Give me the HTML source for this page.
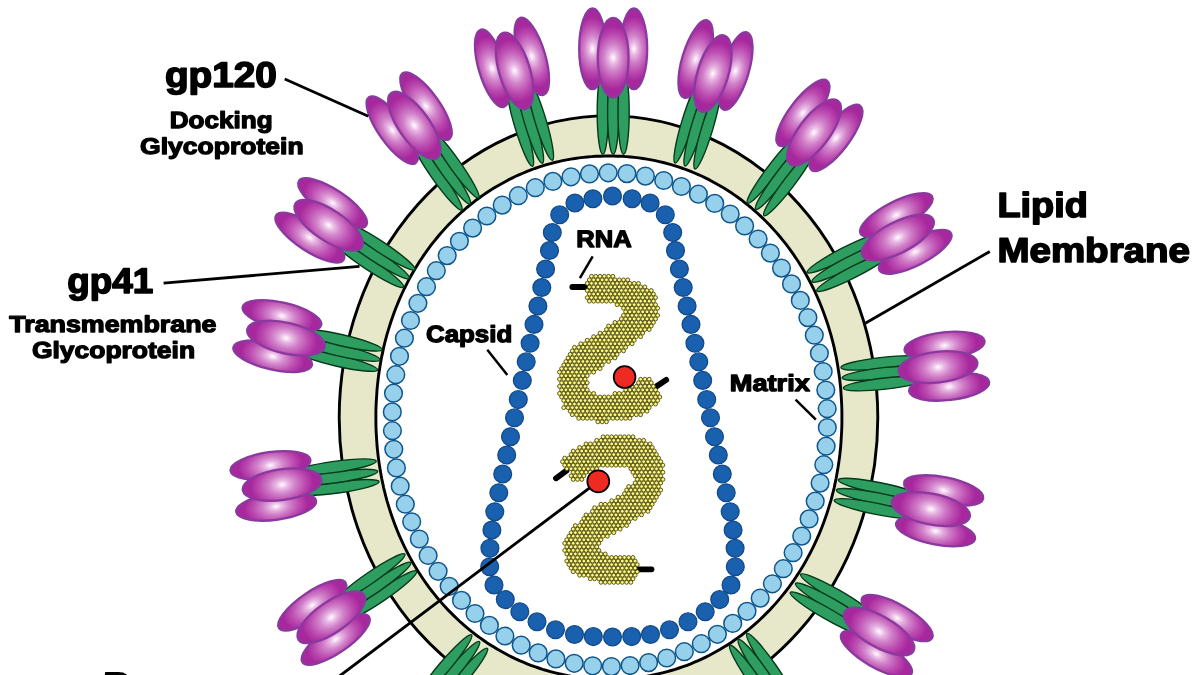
<!DOCTYPE html>
<html><head><meta charset="utf-8"><title>HIV</title>
<style>html,body{margin:0;padding:0;background:#fff}svg{display:block}text{text-rendering:geometricPrecision;font-family:"Liberation Sans",sans-serif;font-weight:bold;fill:#000}</style>
</head><body>
<svg width="1200" height="675" viewBox="0 0 1200 675">
<defs>
<radialGradient id="pg" cx="0.5" cy="0.5" r="0.5" fx="0.5" fy="0.5" gradientTransform="translate(0.5,0.5) scale(1.45,0.80) translate(-0.5,-0.5)"><stop offset="0" stop-color="#FFFFFF"/><stop offset="0.07" stop-color="#F8E3F5"/><stop offset="0.2" stop-color="#E8B6E3"/><stop offset="0.42" stop-color="#D182C9"/><stop offset="0.72" stop-color="#BC4CB1"/><stop offset="1" stop-color="#A7279C"/></radialGradient>
<radialGradient id="yg" cx="0.5" cy="0.5" r="0.5"><stop offset="0" stop-color="#FFFEC0"/><stop offset="0.55" stop-color="#F6F16C"/><stop offset="1" stop-color="#E9E24E"/></radialGradient>
<g id="spike"><ellipse cx="-10.4" cy="-42.8" rx="5.6" ry="42.0" fill="#2D9D60" stroke="#06381B" stroke-width="1.4"/><ellipse cx="0" cy="-42.8" rx="5.6" ry="42.0" fill="#2D9D60" stroke="#06381B" stroke-width="1.4"/><ellipse cx="10.4" cy="-42.8" rx="5.6" ry="42.0" fill="#2D9D60" stroke="#06381B" stroke-width="1.4"/><ellipse cx="-20.7" cy="-106.2" rx="13.3" ry="40.3" fill="url(#pg)" stroke="#8A3A9E" stroke-width="2.3"/><ellipse cx="20.7" cy="-106.2" rx="13.3" ry="40.3" fill="url(#pg)" stroke="#8A3A9E" stroke-width="2.3"/><ellipse cx="0" cy="-97.3" rx="15.4" ry="39.7" fill="url(#pg)" stroke="#8A3A9E" stroke-width="2.3"/></g>
<filter id="nf" x="0" y="0" width="1200" height="675" filterUnits="userSpaceOnUse"><feOffset dx="0" dy="0"/></filter>
</defs>
<rect width="1200" height="675" fill="#fff"/>
<ellipse cx="608.5" cy="417.8" rx="269.3" ry="301.9" fill="#E7E8C9" stroke="#000" stroke-width="2.9"/>
<path d="M841.9,417.6 L841.9,422.6 L841.8,427.5 L841.6,432.3 L841.3,437.1 L841.0,441.8 L840.7,446.5 L840.2,451.2 L839.7,455.8 L839.1,460.4 L838.4,465.0 L837.7,469.6 L836.9,474.1 L836.1,478.6 L835.1,483.1 L834.2,487.6 L833.1,492.0 L832.0,496.4 L830.8,500.8 L829.5,505.1 L828.2,509.4 L826.8,513.7 L825.3,518.0 L823.8,522.2 L822.2,526.4 L820.6,530.5 L818.9,534.6 L817.1,538.7 L815.3,542.7 L813.4,546.7 L811.4,550.6 L809.4,554.5 L807.3,558.4 L805.2,562.2 L803.0,566.0 L800.7,569.7 L798.4,573.4 L796.0,577.0 L793.6,580.6 L791.1,584.1 L788.6,587.6 L786.0,591.0 L783.3,594.4 L780.6,597.7 L777.9,600.9 L775.1,604.1 L772.2,607.3 L769.3,610.4 L766.3,613.4 L763.3,616.4 L760.3,619.3 L757.2,622.2 L754.1,624.9 L750.9,627.7 L747.6,630.3 L744.4,632.9 L741.1,635.5 L737.7,637.9 L734.3,640.3 L730.9,642.7 L727.4,644.9 L723.9,647.1 L720.3,649.3 L716.7,651.3 L713.1,653.3 L709.5,655.3 L705.8,657.1 L702.1,658.9 L698.3,660.6 L694.5,662.2 L690.7,663.8 L686.9,665.3 L683.0,666.7 L679.1,668.0 L675.2,669.3 L671.2,670.5 L667.3,671.6 L663.3,672.7 L659.2,673.6 L655.2,674.5 L651.1,675.3 L647.0,676.1 L642.9,676.7 L638.8,677.3 L634.6,677.8 L630.5,678.2 L626.2,678.6 L622.0,678.9 L617.7,679.0 L613.4,679.2 L608.9,679.2 L604.4,679.2 L600.1,679.0 L595.8,678.9 L591.6,678.6 L587.3,678.2 L583.2,677.8 L579.0,677.3 L574.9,676.7 L570.8,676.1 L566.7,675.3 L562.6,674.5 L558.6,673.6 L554.5,672.7 L550.5,671.6 L546.6,670.5 L542.6,669.3 L538.7,668.0 L534.8,666.7 L530.9,665.3 L527.1,663.8 L523.3,662.2 L519.5,660.6 L515.7,658.9 L512.0,657.1 L508.3,655.3 L504.7,653.3 L501.1,651.3 L497.5,649.3 L493.9,647.1 L490.4,644.9 L486.9,642.7 L483.5,640.3 L480.1,637.9 L476.7,635.5 L473.4,632.9 L470.2,630.3 L466.9,627.7 L463.7,624.9 L460.6,622.2 L457.5,619.3 L454.5,616.4 L451.5,613.4 L448.5,610.4 L445.6,607.3 L442.7,604.1 L439.9,600.9 L437.2,597.7 L434.5,594.4 L431.8,591.0 L429.2,587.6 L426.7,584.1 L424.2,580.6 L421.8,577.0 L419.4,573.4 L417.1,569.7 L414.8,566.0 L412.6,562.2 L410.5,558.4 L408.4,554.5 L406.4,550.6 L404.4,546.7 L402.5,542.7 L400.7,538.7 L398.9,534.6 L397.2,530.5 L395.6,526.4 L394.0,522.2 L392.5,518.0 L391.0,513.7 L389.6,509.4 L388.3,505.1 L387.0,500.8 L385.8,496.4 L384.7,492.0 L383.6,487.6 L382.7,483.1 L381.7,478.6 L380.9,474.1 L380.1,469.6 L379.4,465.0 L378.7,460.4 L378.1,455.8 L377.6,451.2 L377.1,446.5 L376.8,441.8 L376.5,437.1 L376.2,432.3 L376.0,427.5 L375.9,422.6 L375.9,417.6 L375.9,412.6 L376.0,407.7 L376.2,402.9 L376.5,398.1 L376.8,393.4 L377.1,388.7 L377.6,384.0 L378.1,379.4 L378.7,374.8 L379.4,370.2 L380.1,365.6 L380.9,361.1 L381.7,356.6 L382.7,352.1 L383.6,347.6 L384.7,343.2 L385.8,338.8 L387.0,334.4 L388.3,330.1 L389.6,325.8 L391.0,321.5 L392.5,317.2 L394.0,313.0 L395.6,308.8 L397.2,304.7 L398.9,300.6 L400.7,296.5 L402.5,292.5 L404.4,288.5 L406.4,284.6 L408.4,280.7 L410.5,276.8 L412.6,273.0 L414.8,269.2 L417.1,265.5 L419.4,261.8 L421.8,258.2 L424.2,254.6 L426.7,251.1 L429.2,247.6 L431.8,244.2 L434.5,240.8 L437.2,237.5 L439.9,234.3 L442.7,231.1 L445.6,227.9 L448.5,224.8 L451.5,221.8 L454.5,218.8 L457.5,215.9 L460.6,213.0 L463.7,210.3 L466.9,207.5 L470.2,204.9 L473.4,202.3 L476.7,199.7 L480.1,197.3 L483.5,194.9 L486.9,192.5 L490.4,190.3 L493.9,188.1 L497.5,185.9 L501.1,183.9 L504.7,181.9 L508.3,179.9 L512.0,178.1 L515.7,176.3 L519.5,174.6 L523.3,173.0 L527.1,171.4 L530.9,169.9 L534.8,168.5 L538.7,167.2 L542.6,165.9 L546.6,164.7 L550.5,163.6 L554.5,162.5 L558.6,161.6 L562.6,160.7 L566.7,159.9 L570.8,159.1 L574.9,158.5 L579.0,157.9 L583.2,157.4 L587.3,157.0 L591.6,156.6 L595.8,156.3 L600.1,156.2 L604.4,156.0 L608.9,156.0 L613.4,156.0 L617.7,156.2 L622.0,156.3 L626.2,156.6 L630.5,157.0 L634.6,157.4 L638.8,157.9 L642.9,158.5 L647.0,159.1 L651.1,159.9 L655.2,160.7 L659.2,161.6 L663.3,162.5 L667.3,163.6 L671.2,164.7 L675.2,165.9 L679.1,167.2 L683.0,168.5 L686.9,169.9 L690.7,171.4 L694.5,173.0 L698.3,174.6 L702.1,176.3 L705.8,178.1 L709.5,179.9 L713.1,181.9 L716.7,183.9 L720.3,185.9 L723.9,188.1 L727.4,190.3 L730.9,192.5 L734.3,194.9 L737.7,197.3 L741.1,199.7 L744.4,202.3 L747.6,204.9 L750.9,207.5 L754.1,210.3 L757.2,213.0 L760.3,215.9 L763.3,218.8 L766.3,221.8 L769.3,224.8 L772.2,227.9 L775.1,231.1 L777.9,234.3 L780.6,237.5 L783.3,240.8 L786.0,244.2 L788.6,247.6 L791.1,251.1 L793.6,254.6 L796.0,258.2 L798.4,261.8 L800.7,265.5 L803.0,269.2 L805.2,273.0 L807.3,276.8 L809.4,280.7 L811.4,284.6 L813.4,288.5 L815.3,292.5 L817.1,296.5 L818.9,300.6 L820.6,304.7 L822.2,308.8 L823.8,313.0 L825.3,317.2 L826.8,321.5 L828.2,325.8 L829.5,330.1 L830.8,334.4 L832.0,338.8 L833.1,343.2 L834.2,347.6 L835.1,352.1 L836.1,356.6 L836.9,361.1 L837.7,365.6 L838.4,370.2 L839.1,374.8 L839.7,379.4 L840.2,384.0 L840.7,388.7 L841.0,393.4 L841.3,398.1 L841.6,402.9 L841.8,407.7 L841.9,412.6Z" fill="#fff" stroke="#000" stroke-width="2.9" stroke-linejoin="round"/>
<use href="#spike" transform="translate(613.2,155.0) rotate(0.0)"/>
<use href="#spike" transform="translate(542.7,164.0) rotate(-16.8)"/>
<use href="#spike" transform="translate(470.7,204.7) rotate(-35.4)"/>
<use href="#spike" transform="translate(409.9,278.8) rotate(-56.6)"/>
<use href="#spike" transform="translate(380.8,360.0) rotate(-77.0)"/>
<use href="#spike" transform="translate(378.5,471.3) rotate(-97.9)"/>
<use href="#spike" transform="translate(411.5,562.2) rotate(-124.5)"/>
<use href="#spike" transform="translate(480.0,641.1) rotate(-139.6)"/>
<use href="#spike" transform="translate(684.8,166.7) rotate(16.8)"/>
<use href="#spike" transform="translate(755.2,210.0) rotate(37.2)"/>
<use href="#spike" transform="translate(811.3,282.0) rotate(62.8)"/>
<use href="#spike" transform="translate(841.3,378.0) rotate(83.6)"/>
<use href="#spike" transform="translate(835.5,490.0) rotate(101.3)"/>
<use href="#spike" transform="translate(794.7,583.0) rotate(119.9)"/>
<use href="#spike" transform="translate(738.0,638.8) rotate(145.1)"/>
<g fill="#97D0EB" stroke="#0F568C" stroke-width="1.5">
<circle cx="608.2" cy="172.8" r="8.85"/>
<circle cx="626.9" cy="173.6" r="8.85"/>
<circle cx="645.4" cy="176.1" r="8.85"/>
<circle cx="663.7" cy="180.5" r="8.85"/>
<circle cx="681.4" cy="186.5" r="8.85"/>
<circle cx="698.4" cy="194.2" r="8.85"/>
<circle cx="714.7" cy="203.4" r="8.85"/>
<circle cx="730.2" cy="214.0" r="8.85"/>
<circle cx="744.6" cy="225.9" r="8.85"/>
<circle cx="758.1" cy="239.0" r="8.85"/>
<circle cx="770.4" cy="253.1" r="8.85"/>
<circle cx="781.5" cy="268.1" r="8.85"/>
<circle cx="791.5" cy="283.9" r="8.85"/>
<circle cx="800.3" cy="300.4" r="8.85"/>
<circle cx="807.9" cy="317.6" r="8.85"/>
<circle cx="814.3" cy="335.2" r="8.85"/>
<circle cx="819.4" cy="353.2" r="8.85"/>
<circle cx="823.2" cy="371.5" r="8.85"/>
<circle cx="825.8" cy="390.1" r="8.85"/>
<circle cx="827.2" cy="408.7" r="8.85"/>
<circle cx="827.3" cy="427.5" r="8.85"/>
<circle cx="826.1" cy="446.2" r="8.85"/>
<circle cx="823.8" cy="464.7" r="8.85"/>
<circle cx="820.1" cy="483.1" r="8.85"/>
<circle cx="815.2" cy="501.2" r="8.85"/>
<circle cx="809.1" cy="518.9" r="8.85"/>
<circle cx="801.7" cy="536.1" r="8.85"/>
<circle cx="793.1" cy="552.7" r="8.85"/>
<circle cx="783.3" cy="568.7" r="8.85"/>
<circle cx="772.4" cy="583.8" r="8.85"/>
<circle cx="760.2" cy="598.1" r="8.85"/>
<circle cx="747.0" cy="611.3" r="8.85"/>
<circle cx="732.7" cy="623.4" r="8.85"/>
<circle cx="717.4" cy="634.3" r="8.85"/>
<circle cx="701.3" cy="643.7" r="8.85"/>
<circle cx="684.3" cy="651.7" r="8.85"/>
<circle cx="666.7" cy="658.0" r="8.85"/>
<circle cx="648.6" cy="662.6" r="8.85"/>
<circle cx="630.1" cy="665.5" r="8.85"/>
<circle cx="611.4" cy="666.6" r="8.85"/>
<circle cx="592.7" cy="665.8" r="8.85"/>
<circle cx="574.2" cy="663.3" r="8.85"/>
<circle cx="555.9" cy="658.9" r="8.85"/>
<circle cx="538.2" cy="652.9" r="8.85"/>
<circle cx="521.2" cy="645.2" r="8.85"/>
<circle cx="504.9" cy="636.0" r="8.85"/>
<circle cx="489.4" cy="625.4" r="8.85"/>
<circle cx="475.0" cy="613.5" r="8.85"/>
<circle cx="461.5" cy="600.4" r="8.85"/>
<circle cx="449.2" cy="586.3" r="8.85"/>
<circle cx="438.1" cy="571.3" r="8.85"/>
<circle cx="428.1" cy="555.5" r="8.85"/>
<circle cx="419.3" cy="539.0" r="8.85"/>
<circle cx="411.7" cy="521.8" r="8.85"/>
<circle cx="405.3" cy="504.2" r="8.85"/>
<circle cx="400.2" cy="486.2" r="8.85"/>
<circle cx="396.4" cy="467.9" r="8.85"/>
<circle cx="393.8" cy="449.3" r="8.85"/>
<circle cx="392.4" cy="430.7" r="8.85"/>
<circle cx="392.3" cy="411.9" r="8.85"/>
<circle cx="393.5" cy="393.2" r="8.85"/>
<circle cx="395.8" cy="374.7" r="8.85"/>
<circle cx="399.5" cy="356.3" r="8.85"/>
<circle cx="404.4" cy="338.2" r="8.85"/>
<circle cx="410.5" cy="320.5" r="8.85"/>
<circle cx="417.9" cy="303.3" r="8.85"/>
<circle cx="426.5" cy="286.7" r="8.85"/>
<circle cx="436.3" cy="270.7" r="8.85"/>
<circle cx="447.2" cy="255.6" r="8.85"/>
<circle cx="459.4" cy="241.3" r="8.85"/>
<circle cx="472.6" cy="228.1" r="8.85"/>
<circle cx="486.9" cy="216.0" r="8.85"/>
<circle cx="502.2" cy="205.1" r="8.85"/>
<circle cx="518.3" cy="195.7" r="8.85"/>
<circle cx="535.3" cy="187.7" r="8.85"/>
<circle cx="552.9" cy="181.4" r="8.85"/>
<circle cx="571.0" cy="176.8" r="8.85"/>
<circle cx="589.5" cy="173.9" r="8.85"/>
</g>
<g fill="#1960AE" stroke="#124A8C" stroke-width="1.3">
<circle cx="612.5" cy="196.0" r="8.9"/>
<circle cx="592.9" cy="198.7" r="8.9"/>
<circle cx="632.1" cy="198.7" r="8.9"/>
<circle cx="574.9" cy="203.0" r="8.9"/>
<circle cx="650.1" cy="203.0" r="8.9"/>
<circle cx="559.7" cy="214.8" r="8.9"/>
<circle cx="665.3" cy="214.8" r="8.9"/>
<circle cx="552.3" cy="232.5" r="8.9"/>
<circle cx="672.7" cy="232.5" r="8.9"/>
<circle cx="549.5" cy="250.5" r="8.9"/>
<circle cx="675.5" cy="250.5" r="8.9"/>
<circle cx="545.6" cy="269.0" r="8.9"/>
<circle cx="679.4" cy="269.0" r="8.9"/>
<circle cx="541.8" cy="287.5" r="8.9"/>
<circle cx="683.2" cy="287.5" r="8.9"/>
<circle cx="537.9" cy="306.0" r="8.9"/>
<circle cx="687.1" cy="306.0" r="8.9"/>
<circle cx="534.0" cy="324.4" r="8.9"/>
<circle cx="691.0" cy="324.4" r="8.9"/>
<circle cx="530.1" cy="343.3" r="8.9"/>
<circle cx="694.9" cy="343.3" r="8.9"/>
<circle cx="526.2" cy="361.8" r="8.9"/>
<circle cx="698.8" cy="361.8" r="8.9"/>
<circle cx="522.3" cy="380.4" r="8.9"/>
<circle cx="702.7" cy="380.4" r="8.9"/>
<circle cx="518.3" cy="399.6" r="8.9"/>
<circle cx="706.7" cy="399.6" r="8.9"/>
<circle cx="514.5" cy="417.8" r="8.9"/>
<circle cx="710.5" cy="417.8" r="8.9"/>
<circle cx="510.5" cy="436.7" r="8.9"/>
<circle cx="714.5" cy="436.7" r="8.9"/>
<circle cx="506.7" cy="455.0" r="8.9"/>
<circle cx="718.3" cy="455.0" r="8.9"/>
<circle cx="502.7" cy="474.0" r="8.9"/>
<circle cx="722.3" cy="474.0" r="8.9"/>
<circle cx="498.8" cy="492.7" r="8.9"/>
<circle cx="726.2" cy="492.7" r="8.9"/>
<circle cx="494.8" cy="511.7" r="8.9"/>
<circle cx="730.2" cy="511.7" r="8.9"/>
<circle cx="491.9" cy="530.0" r="8.9"/>
<circle cx="733.1" cy="530.0" r="8.9"/>
<circle cx="489.9" cy="548.3" r="8.9"/>
<circle cx="735.1" cy="548.3" r="8.9"/>
<circle cx="489.7" cy="566.7" r="8.9"/>
<circle cx="735.3" cy="566.7" r="8.9"/>
<circle cx="494.0" cy="585.0" r="8.9"/>
<circle cx="731.0" cy="585.0" r="8.9"/>
<circle cx="505.3" cy="599.6" r="8.9"/>
<circle cx="719.7" cy="599.6" r="8.9"/>
<circle cx="519.8" cy="611.7" r="8.9"/>
<circle cx="705.2" cy="611.7" r="8.9"/>
<circle cx="537.0" cy="621.8" r="8.9"/>
<circle cx="688.0" cy="621.8" r="8.9"/>
<circle cx="555.5" cy="629.8" r="8.9"/>
<circle cx="669.5" cy="629.8" r="8.9"/>
<circle cx="574.5" cy="634.5" r="8.9"/>
<circle cx="650.5" cy="634.5" r="8.9"/>
<circle cx="593.3" cy="636.6" r="8.9"/>
<circle cx="631.7" cy="636.6" r="8.9"/>
<circle cx="612.5" cy="637.0" r="8.9"/>
</g>
<g stroke="#000" stroke-width="5.8" stroke-linecap="round">
<line x1="572.3" y1="287" x2="588" y2="287"/>
<line x1="657" y1="386" x2="666.2" y2="379.8"/>
<line x1="556" y1="478.3" x2="566.5" y2="470.6"/>
<line x1="638" y1="569.3" x2="651.5" y2="569.3"/>
</g>
<g fill="url(#yg)" stroke="#3C3A07" stroke-width="0.8">
<circle cx="591.50" cy="276.30" r="1.95"/>
<circle cx="595.77" cy="276.30" r="1.95"/>
<circle cx="600.04" cy="276.30" r="1.95"/>
<circle cx="604.31" cy="276.30" r="1.95"/>
<circle cx="608.58" cy="276.30" r="1.95"/>
<circle cx="612.85" cy="276.30" r="1.95"/>
<circle cx="589.37" cy="279.85" r="1.95"/>
<circle cx="593.63" cy="279.85" r="1.95"/>
<circle cx="597.90" cy="279.85" r="1.95"/>
<circle cx="602.17" cy="279.85" r="1.95"/>
<circle cx="606.44" cy="279.85" r="1.95"/>
<circle cx="610.72" cy="279.85" r="1.95"/>
<circle cx="614.99" cy="279.85" r="1.95"/>
<circle cx="619.25" cy="279.85" r="1.95"/>
<circle cx="623.52" cy="279.85" r="1.95"/>
<circle cx="627.79" cy="279.85" r="1.95"/>
<circle cx="587.23" cy="283.40" r="1.95"/>
<circle cx="591.50" cy="283.40" r="1.95"/>
<circle cx="595.77" cy="283.40" r="1.95"/>
<circle cx="600.04" cy="283.40" r="1.95"/>
<circle cx="604.31" cy="283.40" r="1.95"/>
<circle cx="608.58" cy="283.40" r="1.95"/>
<circle cx="612.85" cy="283.40" r="1.95"/>
<circle cx="617.12" cy="283.40" r="1.95"/>
<circle cx="621.39" cy="283.40" r="1.95"/>
<circle cx="625.66" cy="283.40" r="1.95"/>
<circle cx="629.93" cy="283.40" r="1.95"/>
<circle cx="634.20" cy="283.40" r="1.95"/>
<circle cx="638.47" cy="283.40" r="1.95"/>
<circle cx="589.37" cy="286.95" r="1.95"/>
<circle cx="593.63" cy="286.95" r="1.95"/>
<circle cx="597.90" cy="286.95" r="1.95"/>
<circle cx="602.17" cy="286.95" r="1.95"/>
<circle cx="606.44" cy="286.95" r="1.95"/>
<circle cx="610.72" cy="286.95" r="1.95"/>
<circle cx="614.99" cy="286.95" r="1.95"/>
<circle cx="619.25" cy="286.95" r="1.95"/>
<circle cx="623.52" cy="286.95" r="1.95"/>
<circle cx="627.79" cy="286.95" r="1.95"/>
<circle cx="632.06" cy="286.95" r="1.95"/>
<circle cx="636.34" cy="286.95" r="1.95"/>
<circle cx="640.61" cy="286.95" r="1.95"/>
<circle cx="644.88" cy="286.95" r="1.95"/>
<circle cx="587.23" cy="290.50" r="1.95"/>
<circle cx="591.50" cy="290.50" r="1.95"/>
<circle cx="595.77" cy="290.50" r="1.95"/>
<circle cx="600.04" cy="290.50" r="1.95"/>
<circle cx="604.31" cy="290.50" r="1.95"/>
<circle cx="608.58" cy="290.50" r="1.95"/>
<circle cx="612.85" cy="290.50" r="1.95"/>
<circle cx="617.12" cy="290.50" r="1.95"/>
<circle cx="621.39" cy="290.50" r="1.95"/>
<circle cx="625.66" cy="290.50" r="1.95"/>
<circle cx="629.93" cy="290.50" r="1.95"/>
<circle cx="634.20" cy="290.50" r="1.95"/>
<circle cx="638.47" cy="290.50" r="1.95"/>
<circle cx="642.74" cy="290.50" r="1.95"/>
<circle cx="647.01" cy="290.50" r="1.95"/>
<circle cx="651.28" cy="290.50" r="1.95"/>
<circle cx="589.37" cy="294.05" r="1.95"/>
<circle cx="593.63" cy="294.05" r="1.95"/>
<circle cx="597.90" cy="294.05" r="1.95"/>
<circle cx="602.17" cy="294.05" r="1.95"/>
<circle cx="606.44" cy="294.05" r="1.95"/>
<circle cx="610.72" cy="294.05" r="1.95"/>
<circle cx="614.99" cy="294.05" r="1.95"/>
<circle cx="619.25" cy="294.05" r="1.95"/>
<circle cx="623.52" cy="294.05" r="1.95"/>
<circle cx="627.79" cy="294.05" r="1.95"/>
<circle cx="632.06" cy="294.05" r="1.95"/>
<circle cx="636.34" cy="294.05" r="1.95"/>
<circle cx="640.61" cy="294.05" r="1.95"/>
<circle cx="644.88" cy="294.05" r="1.95"/>
<circle cx="649.14" cy="294.05" r="1.95"/>
<circle cx="653.41" cy="294.05" r="1.95"/>
<circle cx="587.23" cy="297.60" r="1.95"/>
<circle cx="591.50" cy="297.60" r="1.95"/>
<circle cx="595.77" cy="297.60" r="1.95"/>
<circle cx="600.04" cy="297.60" r="1.95"/>
<circle cx="604.31" cy="297.60" r="1.95"/>
<circle cx="608.58" cy="297.60" r="1.95"/>
<circle cx="612.85" cy="297.60" r="1.95"/>
<circle cx="617.12" cy="297.60" r="1.95"/>
<circle cx="621.39" cy="297.60" r="1.95"/>
<circle cx="625.66" cy="297.60" r="1.95"/>
<circle cx="629.93" cy="297.60" r="1.95"/>
<circle cx="634.20" cy="297.60" r="1.95"/>
<circle cx="638.47" cy="297.60" r="1.95"/>
<circle cx="642.74" cy="297.60" r="1.95"/>
<circle cx="647.01" cy="297.60" r="1.95"/>
<circle cx="651.28" cy="297.60" r="1.95"/>
<circle cx="655.55" cy="297.60" r="1.95"/>
<circle cx="589.37" cy="301.15" r="1.95"/>
<circle cx="593.63" cy="301.15" r="1.95"/>
<circle cx="597.90" cy="301.15" r="1.95"/>
<circle cx="602.17" cy="301.15" r="1.95"/>
<circle cx="606.44" cy="301.15" r="1.95"/>
<circle cx="610.72" cy="301.15" r="1.95"/>
<circle cx="614.99" cy="301.15" r="1.95"/>
<circle cx="619.25" cy="301.15" r="1.95"/>
<circle cx="623.52" cy="301.15" r="1.95"/>
<circle cx="627.79" cy="301.15" r="1.95"/>
<circle cx="632.06" cy="301.15" r="1.95"/>
<circle cx="636.34" cy="301.15" r="1.95"/>
<circle cx="640.61" cy="301.15" r="1.95"/>
<circle cx="644.88" cy="301.15" r="1.95"/>
<circle cx="649.14" cy="301.15" r="1.95"/>
<circle cx="653.41" cy="301.15" r="1.95"/>
<circle cx="617.12" cy="304.70" r="1.95"/>
<circle cx="621.39" cy="304.70" r="1.95"/>
<circle cx="625.66" cy="304.70" r="1.95"/>
<circle cx="629.93" cy="304.70" r="1.95"/>
<circle cx="634.20" cy="304.70" r="1.95"/>
<circle cx="638.47" cy="304.70" r="1.95"/>
<circle cx="642.74" cy="304.70" r="1.95"/>
<circle cx="647.01" cy="304.70" r="1.95"/>
<circle cx="651.28" cy="304.70" r="1.95"/>
<circle cx="655.55" cy="304.70" r="1.95"/>
<circle cx="623.52" cy="308.25" r="1.95"/>
<circle cx="627.79" cy="308.25" r="1.95"/>
<circle cx="632.06" cy="308.25" r="1.95"/>
<circle cx="636.34" cy="308.25" r="1.95"/>
<circle cx="640.61" cy="308.25" r="1.95"/>
<circle cx="644.88" cy="308.25" r="1.95"/>
<circle cx="649.14" cy="308.25" r="1.95"/>
<circle cx="653.41" cy="308.25" r="1.95"/>
<circle cx="657.68" cy="308.25" r="1.95"/>
<circle cx="625.66" cy="311.80" r="1.95"/>
<circle cx="629.93" cy="311.80" r="1.95"/>
<circle cx="634.20" cy="311.80" r="1.95"/>
<circle cx="638.47" cy="311.80" r="1.95"/>
<circle cx="642.74" cy="311.80" r="1.95"/>
<circle cx="647.01" cy="311.80" r="1.95"/>
<circle cx="651.28" cy="311.80" r="1.95"/>
<circle cx="655.55" cy="311.80" r="1.95"/>
<circle cx="623.52" cy="315.35" r="1.95"/>
<circle cx="627.79" cy="315.35" r="1.95"/>
<circle cx="632.06" cy="315.35" r="1.95"/>
<circle cx="636.34" cy="315.35" r="1.95"/>
<circle cx="640.61" cy="315.35" r="1.95"/>
<circle cx="644.88" cy="315.35" r="1.95"/>
<circle cx="649.14" cy="315.35" r="1.95"/>
<circle cx="653.41" cy="315.35" r="1.95"/>
<circle cx="657.68" cy="315.35" r="1.95"/>
<circle cx="621.39" cy="318.90" r="1.95"/>
<circle cx="625.66" cy="318.90" r="1.95"/>
<circle cx="629.93" cy="318.90" r="1.95"/>
<circle cx="634.20" cy="318.90" r="1.95"/>
<circle cx="638.47" cy="318.90" r="1.95"/>
<circle cx="642.74" cy="318.90" r="1.95"/>
<circle cx="647.01" cy="318.90" r="1.95"/>
<circle cx="651.28" cy="318.90" r="1.95"/>
<circle cx="655.55" cy="318.90" r="1.95"/>
<circle cx="614.99" cy="322.45" r="1.95"/>
<circle cx="619.25" cy="322.45" r="1.95"/>
<circle cx="623.52" cy="322.45" r="1.95"/>
<circle cx="627.79" cy="322.45" r="1.95"/>
<circle cx="632.06" cy="322.45" r="1.95"/>
<circle cx="636.34" cy="322.45" r="1.95"/>
<circle cx="640.61" cy="322.45" r="1.95"/>
<circle cx="644.88" cy="322.45" r="1.95"/>
<circle cx="649.14" cy="322.45" r="1.95"/>
<circle cx="653.41" cy="322.45" r="1.95"/>
<circle cx="608.58" cy="326.00" r="1.95"/>
<circle cx="612.85" cy="326.00" r="1.95"/>
<circle cx="617.12" cy="326.00" r="1.95"/>
<circle cx="621.39" cy="326.00" r="1.95"/>
<circle cx="625.66" cy="326.00" r="1.95"/>
<circle cx="629.93" cy="326.00" r="1.95"/>
<circle cx="634.20" cy="326.00" r="1.95"/>
<circle cx="638.47" cy="326.00" r="1.95"/>
<circle cx="642.74" cy="326.00" r="1.95"/>
<circle cx="647.01" cy="326.00" r="1.95"/>
<circle cx="651.28" cy="326.00" r="1.95"/>
<circle cx="606.44" cy="329.55" r="1.95"/>
<circle cx="610.72" cy="329.55" r="1.95"/>
<circle cx="614.99" cy="329.55" r="1.95"/>
<circle cx="619.25" cy="329.55" r="1.95"/>
<circle cx="623.52" cy="329.55" r="1.95"/>
<circle cx="627.79" cy="329.55" r="1.95"/>
<circle cx="632.06" cy="329.55" r="1.95"/>
<circle cx="636.34" cy="329.55" r="1.95"/>
<circle cx="640.61" cy="329.55" r="1.95"/>
<circle cx="644.88" cy="329.55" r="1.95"/>
<circle cx="649.14" cy="329.55" r="1.95"/>
<circle cx="600.04" cy="333.10" r="1.95"/>
<circle cx="604.31" cy="333.10" r="1.95"/>
<circle cx="608.58" cy="333.10" r="1.95"/>
<circle cx="612.85" cy="333.10" r="1.95"/>
<circle cx="617.12" cy="333.10" r="1.95"/>
<circle cx="621.39" cy="333.10" r="1.95"/>
<circle cx="625.66" cy="333.10" r="1.95"/>
<circle cx="629.93" cy="333.10" r="1.95"/>
<circle cx="634.20" cy="333.10" r="1.95"/>
<circle cx="638.47" cy="333.10" r="1.95"/>
<circle cx="642.74" cy="333.10" r="1.95"/>
<circle cx="593.63" cy="336.65" r="1.95"/>
<circle cx="597.90" cy="336.65" r="1.95"/>
<circle cx="602.17" cy="336.65" r="1.95"/>
<circle cx="606.44" cy="336.65" r="1.95"/>
<circle cx="610.72" cy="336.65" r="1.95"/>
<circle cx="614.99" cy="336.65" r="1.95"/>
<circle cx="619.25" cy="336.65" r="1.95"/>
<circle cx="623.52" cy="336.65" r="1.95"/>
<circle cx="627.79" cy="336.65" r="1.95"/>
<circle cx="632.06" cy="336.65" r="1.95"/>
<circle cx="636.34" cy="336.65" r="1.95"/>
<circle cx="640.61" cy="336.65" r="1.95"/>
<circle cx="587.23" cy="340.20" r="1.95"/>
<circle cx="591.50" cy="340.20" r="1.95"/>
<circle cx="595.77" cy="340.20" r="1.95"/>
<circle cx="600.04" cy="340.20" r="1.95"/>
<circle cx="604.31" cy="340.20" r="1.95"/>
<circle cx="608.58" cy="340.20" r="1.95"/>
<circle cx="612.85" cy="340.20" r="1.95"/>
<circle cx="617.12" cy="340.20" r="1.95"/>
<circle cx="621.39" cy="340.20" r="1.95"/>
<circle cx="625.66" cy="340.20" r="1.95"/>
<circle cx="629.93" cy="340.20" r="1.95"/>
<circle cx="634.20" cy="340.20" r="1.95"/>
<circle cx="580.83" cy="343.75" r="1.95"/>
<circle cx="585.10" cy="343.75" r="1.95"/>
<circle cx="589.37" cy="343.75" r="1.95"/>
<circle cx="593.63" cy="343.75" r="1.95"/>
<circle cx="597.90" cy="343.75" r="1.95"/>
<circle cx="602.17" cy="343.75" r="1.95"/>
<circle cx="606.44" cy="343.75" r="1.95"/>
<circle cx="610.72" cy="343.75" r="1.95"/>
<circle cx="614.99" cy="343.75" r="1.95"/>
<circle cx="619.25" cy="343.75" r="1.95"/>
<circle cx="623.52" cy="343.75" r="1.95"/>
<circle cx="627.79" cy="343.75" r="1.95"/>
<circle cx="632.06" cy="343.75" r="1.95"/>
<circle cx="574.42" cy="347.30" r="1.95"/>
<circle cx="578.69" cy="347.30" r="1.95"/>
<circle cx="582.96" cy="347.30" r="1.95"/>
<circle cx="587.23" cy="347.30" r="1.95"/>
<circle cx="591.50" cy="347.30" r="1.95"/>
<circle cx="595.77" cy="347.30" r="1.95"/>
<circle cx="600.04" cy="347.30" r="1.95"/>
<circle cx="604.31" cy="347.30" r="1.95"/>
<circle cx="608.58" cy="347.30" r="1.95"/>
<circle cx="612.85" cy="347.30" r="1.95"/>
<circle cx="617.12" cy="347.30" r="1.95"/>
<circle cx="621.39" cy="347.30" r="1.95"/>
<circle cx="625.66" cy="347.30" r="1.95"/>
<circle cx="572.28" cy="350.85" r="1.95"/>
<circle cx="576.55" cy="350.85" r="1.95"/>
<circle cx="580.83" cy="350.85" r="1.95"/>
<circle cx="585.10" cy="350.85" r="1.95"/>
<circle cx="589.37" cy="350.85" r="1.95"/>
<circle cx="593.63" cy="350.85" r="1.95"/>
<circle cx="597.90" cy="350.85" r="1.95"/>
<circle cx="602.17" cy="350.85" r="1.95"/>
<circle cx="606.44" cy="350.85" r="1.95"/>
<circle cx="610.72" cy="350.85" r="1.95"/>
<circle cx="614.99" cy="350.85" r="1.95"/>
<circle cx="619.25" cy="350.85" r="1.95"/>
<circle cx="623.52" cy="350.85" r="1.95"/>
<circle cx="570.15" cy="354.40" r="1.95"/>
<circle cx="574.42" cy="354.40" r="1.95"/>
<circle cx="578.69" cy="354.40" r="1.95"/>
<circle cx="582.96" cy="354.40" r="1.95"/>
<circle cx="587.23" cy="354.40" r="1.95"/>
<circle cx="591.50" cy="354.40" r="1.95"/>
<circle cx="595.77" cy="354.40" r="1.95"/>
<circle cx="600.04" cy="354.40" r="1.95"/>
<circle cx="604.31" cy="354.40" r="1.95"/>
<circle cx="608.58" cy="354.40" r="1.95"/>
<circle cx="612.85" cy="354.40" r="1.95"/>
<circle cx="617.12" cy="354.40" r="1.95"/>
<circle cx="568.01" cy="357.95" r="1.95"/>
<circle cx="572.28" cy="357.95" r="1.95"/>
<circle cx="576.55" cy="357.95" r="1.95"/>
<circle cx="580.83" cy="357.95" r="1.95"/>
<circle cx="585.10" cy="357.95" r="1.95"/>
<circle cx="589.37" cy="357.95" r="1.95"/>
<circle cx="593.63" cy="357.95" r="1.95"/>
<circle cx="597.90" cy="357.95" r="1.95"/>
<circle cx="602.17" cy="357.95" r="1.95"/>
<circle cx="606.44" cy="357.95" r="1.95"/>
<circle cx="610.72" cy="357.95" r="1.95"/>
<circle cx="614.99" cy="357.95" r="1.95"/>
<circle cx="565.88" cy="361.50" r="1.95"/>
<circle cx="570.15" cy="361.50" r="1.95"/>
<circle cx="574.42" cy="361.50" r="1.95"/>
<circle cx="578.69" cy="361.50" r="1.95"/>
<circle cx="582.96" cy="361.50" r="1.95"/>
<circle cx="587.23" cy="361.50" r="1.95"/>
<circle cx="591.50" cy="361.50" r="1.95"/>
<circle cx="595.77" cy="361.50" r="1.95"/>
<circle cx="600.04" cy="361.50" r="1.95"/>
<circle cx="604.31" cy="361.50" r="1.95"/>
<circle cx="608.58" cy="361.50" r="1.95"/>
<circle cx="563.75" cy="365.05" r="1.95"/>
<circle cx="568.01" cy="365.05" r="1.95"/>
<circle cx="572.28" cy="365.05" r="1.95"/>
<circle cx="576.55" cy="365.05" r="1.95"/>
<circle cx="580.83" cy="365.05" r="1.95"/>
<circle cx="585.10" cy="365.05" r="1.95"/>
<circle cx="589.37" cy="365.05" r="1.95"/>
<circle cx="593.63" cy="365.05" r="1.95"/>
<circle cx="597.90" cy="365.05" r="1.95"/>
<circle cx="602.17" cy="365.05" r="1.95"/>
<circle cx="561.61" cy="368.60" r="1.95"/>
<circle cx="565.88" cy="368.60" r="1.95"/>
<circle cx="570.15" cy="368.60" r="1.95"/>
<circle cx="574.42" cy="368.60" r="1.95"/>
<circle cx="578.69" cy="368.60" r="1.95"/>
<circle cx="582.96" cy="368.60" r="1.95"/>
<circle cx="587.23" cy="368.60" r="1.95"/>
<circle cx="591.50" cy="368.60" r="1.95"/>
<circle cx="595.77" cy="368.60" r="1.95"/>
<circle cx="600.04" cy="368.60" r="1.95"/>
<circle cx="559.48" cy="372.15" r="1.95"/>
<circle cx="563.75" cy="372.15" r="1.95"/>
<circle cx="568.01" cy="372.15" r="1.95"/>
<circle cx="572.28" cy="372.15" r="1.95"/>
<circle cx="576.55" cy="372.15" r="1.95"/>
<circle cx="580.83" cy="372.15" r="1.95"/>
<circle cx="585.10" cy="372.15" r="1.95"/>
<circle cx="589.37" cy="372.15" r="1.95"/>
<circle cx="593.63" cy="372.15" r="1.95"/>
<circle cx="561.61" cy="375.70" r="1.95"/>
<circle cx="565.88" cy="375.70" r="1.95"/>
<circle cx="570.15" cy="375.70" r="1.95"/>
<circle cx="574.42" cy="375.70" r="1.95"/>
<circle cx="578.69" cy="375.70" r="1.95"/>
<circle cx="582.96" cy="375.70" r="1.95"/>
<circle cx="587.23" cy="375.70" r="1.95"/>
<circle cx="559.48" cy="379.25" r="1.95"/>
<circle cx="563.75" cy="379.25" r="1.95"/>
<circle cx="568.01" cy="379.25" r="1.95"/>
<circle cx="572.28" cy="379.25" r="1.95"/>
<circle cx="576.55" cy="379.25" r="1.95"/>
<circle cx="580.83" cy="379.25" r="1.95"/>
<circle cx="585.10" cy="379.25" r="1.95"/>
<circle cx="640.61" cy="379.25" r="1.95"/>
<circle cx="644.88" cy="379.25" r="1.95"/>
<circle cx="649.14" cy="379.25" r="1.95"/>
<circle cx="561.61" cy="382.80" r="1.95"/>
<circle cx="565.88" cy="382.80" r="1.95"/>
<circle cx="570.15" cy="382.80" r="1.95"/>
<circle cx="574.42" cy="382.80" r="1.95"/>
<circle cx="578.69" cy="382.80" r="1.95"/>
<circle cx="582.96" cy="382.80" r="1.95"/>
<circle cx="587.23" cy="382.80" r="1.95"/>
<circle cx="638.47" cy="382.80" r="1.95"/>
<circle cx="642.74" cy="382.80" r="1.95"/>
<circle cx="647.01" cy="382.80" r="1.95"/>
<circle cx="651.28" cy="382.80" r="1.95"/>
<circle cx="559.48" cy="386.35" r="1.95"/>
<circle cx="563.75" cy="386.35" r="1.95"/>
<circle cx="568.01" cy="386.35" r="1.95"/>
<circle cx="572.28" cy="386.35" r="1.95"/>
<circle cx="576.55" cy="386.35" r="1.95"/>
<circle cx="580.83" cy="386.35" r="1.95"/>
<circle cx="585.10" cy="386.35" r="1.95"/>
<circle cx="632.06" cy="386.35" r="1.95"/>
<circle cx="636.34" cy="386.35" r="1.95"/>
<circle cx="640.61" cy="386.35" r="1.95"/>
<circle cx="644.88" cy="386.35" r="1.95"/>
<circle cx="649.14" cy="386.35" r="1.95"/>
<circle cx="653.41" cy="386.35" r="1.95"/>
<circle cx="561.61" cy="389.90" r="1.95"/>
<circle cx="565.88" cy="389.90" r="1.95"/>
<circle cx="570.15" cy="389.90" r="1.95"/>
<circle cx="574.42" cy="389.90" r="1.95"/>
<circle cx="578.69" cy="389.90" r="1.95"/>
<circle cx="582.96" cy="389.90" r="1.95"/>
<circle cx="587.23" cy="389.90" r="1.95"/>
<circle cx="625.66" cy="389.90" r="1.95"/>
<circle cx="629.93" cy="389.90" r="1.95"/>
<circle cx="634.20" cy="389.90" r="1.95"/>
<circle cx="638.47" cy="389.90" r="1.95"/>
<circle cx="642.74" cy="389.90" r="1.95"/>
<circle cx="647.01" cy="389.90" r="1.95"/>
<circle cx="651.28" cy="389.90" r="1.95"/>
<circle cx="655.55" cy="389.90" r="1.95"/>
<circle cx="559.48" cy="393.45" r="1.95"/>
<circle cx="563.75" cy="393.45" r="1.95"/>
<circle cx="568.01" cy="393.45" r="1.95"/>
<circle cx="572.28" cy="393.45" r="1.95"/>
<circle cx="576.55" cy="393.45" r="1.95"/>
<circle cx="580.83" cy="393.45" r="1.95"/>
<circle cx="585.10" cy="393.45" r="1.95"/>
<circle cx="589.37" cy="393.45" r="1.95"/>
<circle cx="593.63" cy="393.45" r="1.95"/>
<circle cx="614.99" cy="393.45" r="1.95"/>
<circle cx="619.25" cy="393.45" r="1.95"/>
<circle cx="623.52" cy="393.45" r="1.95"/>
<circle cx="627.79" cy="393.45" r="1.95"/>
<circle cx="632.06" cy="393.45" r="1.95"/>
<circle cx="636.34" cy="393.45" r="1.95"/>
<circle cx="640.61" cy="393.45" r="1.95"/>
<circle cx="644.88" cy="393.45" r="1.95"/>
<circle cx="649.14" cy="393.45" r="1.95"/>
<circle cx="653.41" cy="393.45" r="1.95"/>
<circle cx="657.68" cy="393.45" r="1.95"/>
<circle cx="561.61" cy="397.00" r="1.95"/>
<circle cx="565.88" cy="397.00" r="1.95"/>
<circle cx="570.15" cy="397.00" r="1.95"/>
<circle cx="574.42" cy="397.00" r="1.95"/>
<circle cx="578.69" cy="397.00" r="1.95"/>
<circle cx="582.96" cy="397.00" r="1.95"/>
<circle cx="587.23" cy="397.00" r="1.95"/>
<circle cx="591.50" cy="397.00" r="1.95"/>
<circle cx="595.77" cy="397.00" r="1.95"/>
<circle cx="600.04" cy="397.00" r="1.95"/>
<circle cx="604.31" cy="397.00" r="1.95"/>
<circle cx="608.58" cy="397.00" r="1.95"/>
<circle cx="612.85" cy="397.00" r="1.95"/>
<circle cx="617.12" cy="397.00" r="1.95"/>
<circle cx="621.39" cy="397.00" r="1.95"/>
<circle cx="625.66" cy="397.00" r="1.95"/>
<circle cx="629.93" cy="397.00" r="1.95"/>
<circle cx="634.20" cy="397.00" r="1.95"/>
<circle cx="638.47" cy="397.00" r="1.95"/>
<circle cx="642.74" cy="397.00" r="1.95"/>
<circle cx="647.01" cy="397.00" r="1.95"/>
<circle cx="651.28" cy="397.00" r="1.95"/>
<circle cx="655.55" cy="397.00" r="1.95"/>
<circle cx="659.82" cy="397.00" r="1.95"/>
<circle cx="563.75" cy="400.55" r="1.95"/>
<circle cx="568.01" cy="400.55" r="1.95"/>
<circle cx="572.28" cy="400.55" r="1.95"/>
<circle cx="576.55" cy="400.55" r="1.95"/>
<circle cx="580.83" cy="400.55" r="1.95"/>
<circle cx="585.10" cy="400.55" r="1.95"/>
<circle cx="589.37" cy="400.55" r="1.95"/>
<circle cx="593.63" cy="400.55" r="1.95"/>
<circle cx="597.90" cy="400.55" r="1.95"/>
<circle cx="602.17" cy="400.55" r="1.95"/>
<circle cx="606.44" cy="400.55" r="1.95"/>
<circle cx="610.72" cy="400.55" r="1.95"/>
<circle cx="614.99" cy="400.55" r="1.95"/>
<circle cx="619.25" cy="400.55" r="1.95"/>
<circle cx="623.52" cy="400.55" r="1.95"/>
<circle cx="627.79" cy="400.55" r="1.95"/>
<circle cx="632.06" cy="400.55" r="1.95"/>
<circle cx="636.34" cy="400.55" r="1.95"/>
<circle cx="640.61" cy="400.55" r="1.95"/>
<circle cx="644.88" cy="400.55" r="1.95"/>
<circle cx="649.14" cy="400.55" r="1.95"/>
<circle cx="653.41" cy="400.55" r="1.95"/>
<circle cx="657.68" cy="400.55" r="1.95"/>
<circle cx="565.88" cy="404.10" r="1.95"/>
<circle cx="570.15" cy="404.10" r="1.95"/>
<circle cx="574.42" cy="404.10" r="1.95"/>
<circle cx="578.69" cy="404.10" r="1.95"/>
<circle cx="582.96" cy="404.10" r="1.95"/>
<circle cx="587.23" cy="404.10" r="1.95"/>
<circle cx="591.50" cy="404.10" r="1.95"/>
<circle cx="595.77" cy="404.10" r="1.95"/>
<circle cx="600.04" cy="404.10" r="1.95"/>
<circle cx="604.31" cy="404.10" r="1.95"/>
<circle cx="608.58" cy="404.10" r="1.95"/>
<circle cx="612.85" cy="404.10" r="1.95"/>
<circle cx="617.12" cy="404.10" r="1.95"/>
<circle cx="621.39" cy="404.10" r="1.95"/>
<circle cx="625.66" cy="404.10" r="1.95"/>
<circle cx="629.93" cy="404.10" r="1.95"/>
<circle cx="634.20" cy="404.10" r="1.95"/>
<circle cx="638.47" cy="404.10" r="1.95"/>
<circle cx="642.74" cy="404.10" r="1.95"/>
<circle cx="647.01" cy="404.10" r="1.95"/>
<circle cx="651.28" cy="404.10" r="1.95"/>
<circle cx="655.55" cy="404.10" r="1.95"/>
<circle cx="563.75" cy="407.65" r="1.95"/>
<circle cx="568.01" cy="407.65" r="1.95"/>
<circle cx="572.28" cy="407.65" r="1.95"/>
<circle cx="576.55" cy="407.65" r="1.95"/>
<circle cx="580.83" cy="407.65" r="1.95"/>
<circle cx="585.10" cy="407.65" r="1.95"/>
<circle cx="589.37" cy="407.65" r="1.95"/>
<circle cx="593.63" cy="407.65" r="1.95"/>
<circle cx="597.90" cy="407.65" r="1.95"/>
<circle cx="602.17" cy="407.65" r="1.95"/>
<circle cx="606.44" cy="407.65" r="1.95"/>
<circle cx="610.72" cy="407.65" r="1.95"/>
<circle cx="614.99" cy="407.65" r="1.95"/>
<circle cx="619.25" cy="407.65" r="1.95"/>
<circle cx="623.52" cy="407.65" r="1.95"/>
<circle cx="627.79" cy="407.65" r="1.95"/>
<circle cx="632.06" cy="407.65" r="1.95"/>
<circle cx="636.34" cy="407.65" r="1.95"/>
<circle cx="640.61" cy="407.65" r="1.95"/>
<circle cx="644.88" cy="407.65" r="1.95"/>
<circle cx="649.14" cy="407.65" r="1.95"/>
<circle cx="570.15" cy="411.20" r="1.95"/>
<circle cx="574.42" cy="411.20" r="1.95"/>
<circle cx="578.69" cy="411.20" r="1.95"/>
<circle cx="582.96" cy="411.20" r="1.95"/>
<circle cx="587.23" cy="411.20" r="1.95"/>
<circle cx="591.50" cy="411.20" r="1.95"/>
<circle cx="595.77" cy="411.20" r="1.95"/>
<circle cx="600.04" cy="411.20" r="1.95"/>
<circle cx="604.31" cy="411.20" r="1.95"/>
<circle cx="608.58" cy="411.20" r="1.95"/>
<circle cx="612.85" cy="411.20" r="1.95"/>
<circle cx="617.12" cy="411.20" r="1.95"/>
<circle cx="621.39" cy="411.20" r="1.95"/>
<circle cx="625.66" cy="411.20" r="1.95"/>
<circle cx="629.93" cy="411.20" r="1.95"/>
<circle cx="634.20" cy="411.20" r="1.95"/>
<circle cx="638.47" cy="411.20" r="1.95"/>
<circle cx="642.74" cy="411.20" r="1.95"/>
<circle cx="647.01" cy="411.20" r="1.95"/>
<circle cx="572.28" cy="414.75" r="1.95"/>
<circle cx="576.55" cy="414.75" r="1.95"/>
<circle cx="580.83" cy="414.75" r="1.95"/>
<circle cx="585.10" cy="414.75" r="1.95"/>
<circle cx="589.37" cy="414.75" r="1.95"/>
<circle cx="593.63" cy="414.75" r="1.95"/>
<circle cx="597.90" cy="414.75" r="1.95"/>
<circle cx="602.17" cy="414.75" r="1.95"/>
<circle cx="606.44" cy="414.75" r="1.95"/>
<circle cx="610.72" cy="414.75" r="1.95"/>
<circle cx="614.99" cy="414.75" r="1.95"/>
<circle cx="619.25" cy="414.75" r="1.95"/>
<circle cx="623.52" cy="414.75" r="1.95"/>
<circle cx="627.79" cy="414.75" r="1.95"/>
<circle cx="632.06" cy="414.75" r="1.95"/>
<circle cx="636.34" cy="414.75" r="1.95"/>
<circle cx="640.61" cy="414.75" r="1.95"/>
<circle cx="578.69" cy="418.30" r="1.95"/>
<circle cx="582.96" cy="418.30" r="1.95"/>
<circle cx="587.23" cy="418.30" r="1.95"/>
<circle cx="591.50" cy="418.30" r="1.95"/>
<circle cx="595.77" cy="418.30" r="1.95"/>
<circle cx="600.04" cy="418.30" r="1.95"/>
<circle cx="604.31" cy="418.30" r="1.95"/>
<circle cx="608.58" cy="418.30" r="1.95"/>
<circle cx="612.85" cy="418.30" r="1.95"/>
<circle cx="617.12" cy="418.30" r="1.95"/>
<circle cx="621.39" cy="418.30" r="1.95"/>
<circle cx="625.66" cy="418.30" r="1.95"/>
<circle cx="629.93" cy="418.30" r="1.95"/>
<circle cx="597.90" cy="421.85" r="1.95"/>
<circle cx="602.17" cy="421.85" r="1.95"/>
<circle cx="606.44" cy="421.85" r="1.95"/>
<circle cx="603.10" cy="436.80" r="1.95"/>
<circle cx="607.37" cy="436.80" r="1.95"/>
<circle cx="611.64" cy="436.80" r="1.95"/>
<circle cx="615.91" cy="436.80" r="1.95"/>
<circle cx="620.18" cy="436.80" r="1.95"/>
<circle cx="624.45" cy="436.80" r="1.95"/>
<circle cx="628.72" cy="436.80" r="1.95"/>
<circle cx="632.99" cy="436.80" r="1.95"/>
<circle cx="596.70" cy="440.35" r="1.95"/>
<circle cx="600.97" cy="440.35" r="1.95"/>
<circle cx="605.24" cy="440.35" r="1.95"/>
<circle cx="609.50" cy="440.35" r="1.95"/>
<circle cx="613.77" cy="440.35" r="1.95"/>
<circle cx="618.04" cy="440.35" r="1.95"/>
<circle cx="622.32" cy="440.35" r="1.95"/>
<circle cx="626.59" cy="440.35" r="1.95"/>
<circle cx="630.86" cy="440.35" r="1.95"/>
<circle cx="635.12" cy="440.35" r="1.95"/>
<circle cx="639.39" cy="440.35" r="1.95"/>
<circle cx="643.66" cy="440.35" r="1.95"/>
<circle cx="586.02" cy="443.90" r="1.95"/>
<circle cx="590.29" cy="443.90" r="1.95"/>
<circle cx="594.56" cy="443.90" r="1.95"/>
<circle cx="598.83" cy="443.90" r="1.95"/>
<circle cx="603.10" cy="443.90" r="1.95"/>
<circle cx="607.37" cy="443.90" r="1.95"/>
<circle cx="611.64" cy="443.90" r="1.95"/>
<circle cx="615.91" cy="443.90" r="1.95"/>
<circle cx="620.18" cy="443.90" r="1.95"/>
<circle cx="624.45" cy="443.90" r="1.95"/>
<circle cx="628.72" cy="443.90" r="1.95"/>
<circle cx="632.99" cy="443.90" r="1.95"/>
<circle cx="637.26" cy="443.90" r="1.95"/>
<circle cx="641.53" cy="443.90" r="1.95"/>
<circle cx="645.80" cy="443.90" r="1.95"/>
<circle cx="650.07" cy="443.90" r="1.95"/>
<circle cx="579.62" cy="447.45" r="1.95"/>
<circle cx="583.88" cy="447.45" r="1.95"/>
<circle cx="588.15" cy="447.45" r="1.95"/>
<circle cx="592.43" cy="447.45" r="1.95"/>
<circle cx="596.70" cy="447.45" r="1.95"/>
<circle cx="600.97" cy="447.45" r="1.95"/>
<circle cx="605.24" cy="447.45" r="1.95"/>
<circle cx="609.50" cy="447.45" r="1.95"/>
<circle cx="613.77" cy="447.45" r="1.95"/>
<circle cx="618.04" cy="447.45" r="1.95"/>
<circle cx="622.32" cy="447.45" r="1.95"/>
<circle cx="626.59" cy="447.45" r="1.95"/>
<circle cx="630.86" cy="447.45" r="1.95"/>
<circle cx="635.12" cy="447.45" r="1.95"/>
<circle cx="639.39" cy="447.45" r="1.95"/>
<circle cx="643.66" cy="447.45" r="1.95"/>
<circle cx="647.94" cy="447.45" r="1.95"/>
<circle cx="652.21" cy="447.45" r="1.95"/>
<circle cx="573.21" cy="451.00" r="1.95"/>
<circle cx="577.48" cy="451.00" r="1.95"/>
<circle cx="581.75" cy="451.00" r="1.95"/>
<circle cx="586.02" cy="451.00" r="1.95"/>
<circle cx="590.29" cy="451.00" r="1.95"/>
<circle cx="594.56" cy="451.00" r="1.95"/>
<circle cx="598.83" cy="451.00" r="1.95"/>
<circle cx="603.10" cy="451.00" r="1.95"/>
<circle cx="607.37" cy="451.00" r="1.95"/>
<circle cx="611.64" cy="451.00" r="1.95"/>
<circle cx="615.91" cy="451.00" r="1.95"/>
<circle cx="620.18" cy="451.00" r="1.95"/>
<circle cx="624.45" cy="451.00" r="1.95"/>
<circle cx="628.72" cy="451.00" r="1.95"/>
<circle cx="632.99" cy="451.00" r="1.95"/>
<circle cx="637.26" cy="451.00" r="1.95"/>
<circle cx="641.53" cy="451.00" r="1.95"/>
<circle cx="645.80" cy="451.00" r="1.95"/>
<circle cx="650.07" cy="451.00" r="1.95"/>
<circle cx="654.34" cy="451.00" r="1.95"/>
<circle cx="571.08" cy="454.55" r="1.95"/>
<circle cx="575.35" cy="454.55" r="1.95"/>
<circle cx="579.62" cy="454.55" r="1.95"/>
<circle cx="583.88" cy="454.55" r="1.95"/>
<circle cx="588.15" cy="454.55" r="1.95"/>
<circle cx="592.43" cy="454.55" r="1.95"/>
<circle cx="596.70" cy="454.55" r="1.95"/>
<circle cx="600.97" cy="454.55" r="1.95"/>
<circle cx="605.24" cy="454.55" r="1.95"/>
<circle cx="609.50" cy="454.55" r="1.95"/>
<circle cx="613.77" cy="454.55" r="1.95"/>
<circle cx="618.04" cy="454.55" r="1.95"/>
<circle cx="622.32" cy="454.55" r="1.95"/>
<circle cx="626.59" cy="454.55" r="1.95"/>
<circle cx="630.86" cy="454.55" r="1.95"/>
<circle cx="635.12" cy="454.55" r="1.95"/>
<circle cx="639.39" cy="454.55" r="1.95"/>
<circle cx="643.66" cy="454.55" r="1.95"/>
<circle cx="647.94" cy="454.55" r="1.95"/>
<circle cx="652.21" cy="454.55" r="1.95"/>
<circle cx="656.48" cy="454.55" r="1.95"/>
<circle cx="564.67" cy="458.10" r="1.95"/>
<circle cx="568.94" cy="458.10" r="1.95"/>
<circle cx="573.21" cy="458.10" r="1.95"/>
<circle cx="577.48" cy="458.10" r="1.95"/>
<circle cx="581.75" cy="458.10" r="1.95"/>
<circle cx="586.02" cy="458.10" r="1.95"/>
<circle cx="590.29" cy="458.10" r="1.95"/>
<circle cx="594.56" cy="458.10" r="1.95"/>
<circle cx="598.83" cy="458.10" r="1.95"/>
<circle cx="603.10" cy="458.10" r="1.95"/>
<circle cx="607.37" cy="458.10" r="1.95"/>
<circle cx="611.64" cy="458.10" r="1.95"/>
<circle cx="615.91" cy="458.10" r="1.95"/>
<circle cx="620.18" cy="458.10" r="1.95"/>
<circle cx="624.45" cy="458.10" r="1.95"/>
<circle cx="628.72" cy="458.10" r="1.95"/>
<circle cx="632.99" cy="458.10" r="1.95"/>
<circle cx="637.26" cy="458.10" r="1.95"/>
<circle cx="641.53" cy="458.10" r="1.95"/>
<circle cx="645.80" cy="458.10" r="1.95"/>
<circle cx="650.07" cy="458.10" r="1.95"/>
<circle cx="654.34" cy="458.10" r="1.95"/>
<circle cx="658.61" cy="458.10" r="1.95"/>
<circle cx="562.53" cy="461.65" r="1.95"/>
<circle cx="566.81" cy="461.65" r="1.95"/>
<circle cx="571.08" cy="461.65" r="1.95"/>
<circle cx="575.35" cy="461.65" r="1.95"/>
<circle cx="579.62" cy="461.65" r="1.95"/>
<circle cx="583.88" cy="461.65" r="1.95"/>
<circle cx="588.15" cy="461.65" r="1.95"/>
<circle cx="592.43" cy="461.65" r="1.95"/>
<circle cx="596.70" cy="461.65" r="1.95"/>
<circle cx="600.97" cy="461.65" r="1.95"/>
<circle cx="605.24" cy="461.65" r="1.95"/>
<circle cx="609.50" cy="461.65" r="1.95"/>
<circle cx="613.77" cy="461.65" r="1.95"/>
<circle cx="618.04" cy="461.65" r="1.95"/>
<circle cx="622.32" cy="461.65" r="1.95"/>
<circle cx="626.59" cy="461.65" r="1.95"/>
<circle cx="630.86" cy="461.65" r="1.95"/>
<circle cx="635.12" cy="461.65" r="1.95"/>
<circle cx="639.39" cy="461.65" r="1.95"/>
<circle cx="643.66" cy="461.65" r="1.95"/>
<circle cx="647.94" cy="461.65" r="1.95"/>
<circle cx="652.21" cy="461.65" r="1.95"/>
<circle cx="656.48" cy="461.65" r="1.95"/>
<circle cx="660.75" cy="461.65" r="1.95"/>
<circle cx="564.67" cy="465.20" r="1.95"/>
<circle cx="568.94" cy="465.20" r="1.95"/>
<circle cx="573.21" cy="465.20" r="1.95"/>
<circle cx="577.48" cy="465.20" r="1.95"/>
<circle cx="581.75" cy="465.20" r="1.95"/>
<circle cx="586.02" cy="465.20" r="1.95"/>
<circle cx="590.29" cy="465.20" r="1.95"/>
<circle cx="594.56" cy="465.20" r="1.95"/>
<circle cx="598.83" cy="465.20" r="1.95"/>
<circle cx="603.10" cy="465.20" r="1.95"/>
<circle cx="607.37" cy="465.20" r="1.95"/>
<circle cx="611.64" cy="465.20" r="1.95"/>
<circle cx="615.91" cy="465.20" r="1.95"/>
<circle cx="620.18" cy="465.20" r="1.95"/>
<circle cx="624.45" cy="465.20" r="1.95"/>
<circle cx="628.72" cy="465.20" r="1.95"/>
<circle cx="632.99" cy="465.20" r="1.95"/>
<circle cx="637.26" cy="465.20" r="1.95"/>
<circle cx="641.53" cy="465.20" r="1.95"/>
<circle cx="645.80" cy="465.20" r="1.95"/>
<circle cx="650.07" cy="465.20" r="1.95"/>
<circle cx="654.34" cy="465.20" r="1.95"/>
<circle cx="658.61" cy="465.20" r="1.95"/>
<circle cx="662.88" cy="465.20" r="1.95"/>
<circle cx="566.81" cy="468.75" r="1.95"/>
<circle cx="571.08" cy="468.75" r="1.95"/>
<circle cx="575.35" cy="468.75" r="1.95"/>
<circle cx="579.62" cy="468.75" r="1.95"/>
<circle cx="583.88" cy="468.75" r="1.95"/>
<circle cx="588.15" cy="468.75" r="1.95"/>
<circle cx="592.43" cy="468.75" r="1.95"/>
<circle cx="596.70" cy="468.75" r="1.95"/>
<circle cx="630.86" cy="468.75" r="1.95"/>
<circle cx="635.12" cy="468.75" r="1.95"/>
<circle cx="639.39" cy="468.75" r="1.95"/>
<circle cx="643.66" cy="468.75" r="1.95"/>
<circle cx="647.94" cy="468.75" r="1.95"/>
<circle cx="652.21" cy="468.75" r="1.95"/>
<circle cx="656.48" cy="468.75" r="1.95"/>
<circle cx="660.75" cy="468.75" r="1.95"/>
<circle cx="573.21" cy="472.30" r="1.95"/>
<circle cx="577.48" cy="472.30" r="1.95"/>
<circle cx="581.75" cy="472.30" r="1.95"/>
<circle cx="586.02" cy="472.30" r="1.95"/>
<circle cx="590.29" cy="472.30" r="1.95"/>
<circle cx="632.99" cy="472.30" r="1.95"/>
<circle cx="637.26" cy="472.30" r="1.95"/>
<circle cx="641.53" cy="472.30" r="1.95"/>
<circle cx="645.80" cy="472.30" r="1.95"/>
<circle cx="650.07" cy="472.30" r="1.95"/>
<circle cx="654.34" cy="472.30" r="1.95"/>
<circle cx="658.61" cy="472.30" r="1.95"/>
<circle cx="662.88" cy="472.30" r="1.95"/>
<circle cx="571.08" cy="475.85" r="1.95"/>
<circle cx="575.35" cy="475.85" r="1.95"/>
<circle cx="579.62" cy="475.85" r="1.95"/>
<circle cx="583.88" cy="475.85" r="1.95"/>
<circle cx="635.12" cy="475.85" r="1.95"/>
<circle cx="639.39" cy="475.85" r="1.95"/>
<circle cx="643.66" cy="475.85" r="1.95"/>
<circle cx="647.94" cy="475.85" r="1.95"/>
<circle cx="652.21" cy="475.85" r="1.95"/>
<circle cx="656.48" cy="475.85" r="1.95"/>
<circle cx="660.75" cy="475.85" r="1.95"/>
<circle cx="573.21" cy="479.40" r="1.95"/>
<circle cx="577.48" cy="479.40" r="1.95"/>
<circle cx="581.75" cy="479.40" r="1.95"/>
<circle cx="637.26" cy="479.40" r="1.95"/>
<circle cx="641.53" cy="479.40" r="1.95"/>
<circle cx="645.80" cy="479.40" r="1.95"/>
<circle cx="650.07" cy="479.40" r="1.95"/>
<circle cx="654.34" cy="479.40" r="1.95"/>
<circle cx="658.61" cy="479.40" r="1.95"/>
<circle cx="662.88" cy="479.40" r="1.95"/>
<circle cx="635.12" cy="482.95" r="1.95"/>
<circle cx="639.39" cy="482.95" r="1.95"/>
<circle cx="643.66" cy="482.95" r="1.95"/>
<circle cx="647.94" cy="482.95" r="1.95"/>
<circle cx="652.21" cy="482.95" r="1.95"/>
<circle cx="656.48" cy="482.95" r="1.95"/>
<circle cx="660.75" cy="482.95" r="1.95"/>
<circle cx="628.72" cy="486.50" r="1.95"/>
<circle cx="632.99" cy="486.50" r="1.95"/>
<circle cx="637.26" cy="486.50" r="1.95"/>
<circle cx="641.53" cy="486.50" r="1.95"/>
<circle cx="645.80" cy="486.50" r="1.95"/>
<circle cx="650.07" cy="486.50" r="1.95"/>
<circle cx="654.34" cy="486.50" r="1.95"/>
<circle cx="658.61" cy="486.50" r="1.95"/>
<circle cx="626.59" cy="490.05" r="1.95"/>
<circle cx="630.86" cy="490.05" r="1.95"/>
<circle cx="635.12" cy="490.05" r="1.95"/>
<circle cx="639.39" cy="490.05" r="1.95"/>
<circle cx="643.66" cy="490.05" r="1.95"/>
<circle cx="647.94" cy="490.05" r="1.95"/>
<circle cx="652.21" cy="490.05" r="1.95"/>
<circle cx="656.48" cy="490.05" r="1.95"/>
<circle cx="660.75" cy="490.05" r="1.95"/>
<circle cx="624.45" cy="493.60" r="1.95"/>
<circle cx="628.72" cy="493.60" r="1.95"/>
<circle cx="632.99" cy="493.60" r="1.95"/>
<circle cx="637.26" cy="493.60" r="1.95"/>
<circle cx="641.53" cy="493.60" r="1.95"/>
<circle cx="645.80" cy="493.60" r="1.95"/>
<circle cx="650.07" cy="493.60" r="1.95"/>
<circle cx="654.34" cy="493.60" r="1.95"/>
<circle cx="658.61" cy="493.60" r="1.95"/>
<circle cx="618.04" cy="497.15" r="1.95"/>
<circle cx="622.32" cy="497.15" r="1.95"/>
<circle cx="626.59" cy="497.15" r="1.95"/>
<circle cx="630.86" cy="497.15" r="1.95"/>
<circle cx="635.12" cy="497.15" r="1.95"/>
<circle cx="639.39" cy="497.15" r="1.95"/>
<circle cx="643.66" cy="497.15" r="1.95"/>
<circle cx="647.94" cy="497.15" r="1.95"/>
<circle cx="652.21" cy="497.15" r="1.95"/>
<circle cx="656.48" cy="497.15" r="1.95"/>
<circle cx="611.64" cy="500.70" r="1.95"/>
<circle cx="615.91" cy="500.70" r="1.95"/>
<circle cx="620.18" cy="500.70" r="1.95"/>
<circle cx="624.45" cy="500.70" r="1.95"/>
<circle cx="628.72" cy="500.70" r="1.95"/>
<circle cx="632.99" cy="500.70" r="1.95"/>
<circle cx="637.26" cy="500.70" r="1.95"/>
<circle cx="641.53" cy="500.70" r="1.95"/>
<circle cx="645.80" cy="500.70" r="1.95"/>
<circle cx="650.07" cy="500.70" r="1.95"/>
<circle cx="654.34" cy="500.70" r="1.95"/>
<circle cx="600.97" cy="504.25" r="1.95"/>
<circle cx="605.24" cy="504.25" r="1.95"/>
<circle cx="609.50" cy="504.25" r="1.95"/>
<circle cx="613.77" cy="504.25" r="1.95"/>
<circle cx="618.04" cy="504.25" r="1.95"/>
<circle cx="622.32" cy="504.25" r="1.95"/>
<circle cx="626.59" cy="504.25" r="1.95"/>
<circle cx="630.86" cy="504.25" r="1.95"/>
<circle cx="635.12" cy="504.25" r="1.95"/>
<circle cx="639.39" cy="504.25" r="1.95"/>
<circle cx="643.66" cy="504.25" r="1.95"/>
<circle cx="647.94" cy="504.25" r="1.95"/>
<circle cx="652.21" cy="504.25" r="1.95"/>
<circle cx="594.56" cy="507.80" r="1.95"/>
<circle cx="598.83" cy="507.80" r="1.95"/>
<circle cx="603.10" cy="507.80" r="1.95"/>
<circle cx="607.37" cy="507.80" r="1.95"/>
<circle cx="611.64" cy="507.80" r="1.95"/>
<circle cx="615.91" cy="507.80" r="1.95"/>
<circle cx="620.18" cy="507.80" r="1.95"/>
<circle cx="624.45" cy="507.80" r="1.95"/>
<circle cx="628.72" cy="507.80" r="1.95"/>
<circle cx="632.99" cy="507.80" r="1.95"/>
<circle cx="637.26" cy="507.80" r="1.95"/>
<circle cx="641.53" cy="507.80" r="1.95"/>
<circle cx="645.80" cy="507.80" r="1.95"/>
<circle cx="650.07" cy="507.80" r="1.95"/>
<circle cx="592.43" cy="511.35" r="1.95"/>
<circle cx="596.70" cy="511.35" r="1.95"/>
<circle cx="600.97" cy="511.35" r="1.95"/>
<circle cx="605.24" cy="511.35" r="1.95"/>
<circle cx="609.50" cy="511.35" r="1.95"/>
<circle cx="613.77" cy="511.35" r="1.95"/>
<circle cx="618.04" cy="511.35" r="1.95"/>
<circle cx="622.32" cy="511.35" r="1.95"/>
<circle cx="626.59" cy="511.35" r="1.95"/>
<circle cx="630.86" cy="511.35" r="1.95"/>
<circle cx="635.12" cy="511.35" r="1.95"/>
<circle cx="639.39" cy="511.35" r="1.95"/>
<circle cx="643.66" cy="511.35" r="1.95"/>
<circle cx="647.94" cy="511.35" r="1.95"/>
<circle cx="586.02" cy="514.90" r="1.95"/>
<circle cx="590.29" cy="514.90" r="1.95"/>
<circle cx="594.56" cy="514.90" r="1.95"/>
<circle cx="598.83" cy="514.90" r="1.95"/>
<circle cx="603.10" cy="514.90" r="1.95"/>
<circle cx="607.37" cy="514.90" r="1.95"/>
<circle cx="611.64" cy="514.90" r="1.95"/>
<circle cx="615.91" cy="514.90" r="1.95"/>
<circle cx="620.18" cy="514.90" r="1.95"/>
<circle cx="624.45" cy="514.90" r="1.95"/>
<circle cx="628.72" cy="514.90" r="1.95"/>
<circle cx="632.99" cy="514.90" r="1.95"/>
<circle cx="637.26" cy="514.90" r="1.95"/>
<circle cx="641.53" cy="514.90" r="1.95"/>
<circle cx="583.88" cy="518.45" r="1.95"/>
<circle cx="588.15" cy="518.45" r="1.95"/>
<circle cx="592.43" cy="518.45" r="1.95"/>
<circle cx="596.70" cy="518.45" r="1.95"/>
<circle cx="600.97" cy="518.45" r="1.95"/>
<circle cx="605.24" cy="518.45" r="1.95"/>
<circle cx="609.50" cy="518.45" r="1.95"/>
<circle cx="613.77" cy="518.45" r="1.95"/>
<circle cx="618.04" cy="518.45" r="1.95"/>
<circle cx="622.32" cy="518.45" r="1.95"/>
<circle cx="626.59" cy="518.45" r="1.95"/>
<circle cx="630.86" cy="518.45" r="1.95"/>
<circle cx="635.12" cy="518.45" r="1.95"/>
<circle cx="581.75" cy="522.00" r="1.95"/>
<circle cx="586.02" cy="522.00" r="1.95"/>
<circle cx="590.29" cy="522.00" r="1.95"/>
<circle cx="594.56" cy="522.00" r="1.95"/>
<circle cx="598.83" cy="522.00" r="1.95"/>
<circle cx="603.10" cy="522.00" r="1.95"/>
<circle cx="607.37" cy="522.00" r="1.95"/>
<circle cx="611.64" cy="522.00" r="1.95"/>
<circle cx="615.91" cy="522.00" r="1.95"/>
<circle cx="620.18" cy="522.00" r="1.95"/>
<circle cx="624.45" cy="522.00" r="1.95"/>
<circle cx="628.72" cy="522.00" r="1.95"/>
<circle cx="575.35" cy="525.55" r="1.95"/>
<circle cx="579.62" cy="525.55" r="1.95"/>
<circle cx="583.88" cy="525.55" r="1.95"/>
<circle cx="588.15" cy="525.55" r="1.95"/>
<circle cx="592.43" cy="525.55" r="1.95"/>
<circle cx="596.70" cy="525.55" r="1.95"/>
<circle cx="600.97" cy="525.55" r="1.95"/>
<circle cx="605.24" cy="525.55" r="1.95"/>
<circle cx="609.50" cy="525.55" r="1.95"/>
<circle cx="613.77" cy="525.55" r="1.95"/>
<circle cx="618.04" cy="525.55" r="1.95"/>
<circle cx="622.32" cy="525.55" r="1.95"/>
<circle cx="626.59" cy="525.55" r="1.95"/>
<circle cx="573.21" cy="529.10" r="1.95"/>
<circle cx="577.48" cy="529.10" r="1.95"/>
<circle cx="581.75" cy="529.10" r="1.95"/>
<circle cx="586.02" cy="529.10" r="1.95"/>
<circle cx="590.29" cy="529.10" r="1.95"/>
<circle cx="594.56" cy="529.10" r="1.95"/>
<circle cx="598.83" cy="529.10" r="1.95"/>
<circle cx="603.10" cy="529.10" r="1.95"/>
<circle cx="607.37" cy="529.10" r="1.95"/>
<circle cx="611.64" cy="529.10" r="1.95"/>
<circle cx="615.91" cy="529.10" r="1.95"/>
<circle cx="620.18" cy="529.10" r="1.95"/>
<circle cx="571.08" cy="532.65" r="1.95"/>
<circle cx="575.35" cy="532.65" r="1.95"/>
<circle cx="579.62" cy="532.65" r="1.95"/>
<circle cx="583.88" cy="532.65" r="1.95"/>
<circle cx="588.15" cy="532.65" r="1.95"/>
<circle cx="592.43" cy="532.65" r="1.95"/>
<circle cx="596.70" cy="532.65" r="1.95"/>
<circle cx="600.97" cy="532.65" r="1.95"/>
<circle cx="605.24" cy="532.65" r="1.95"/>
<circle cx="609.50" cy="532.65" r="1.95"/>
<circle cx="613.77" cy="532.65" r="1.95"/>
<circle cx="568.94" cy="536.20" r="1.95"/>
<circle cx="573.21" cy="536.20" r="1.95"/>
<circle cx="577.48" cy="536.20" r="1.95"/>
<circle cx="581.75" cy="536.20" r="1.95"/>
<circle cx="586.02" cy="536.20" r="1.95"/>
<circle cx="590.29" cy="536.20" r="1.95"/>
<circle cx="594.56" cy="536.20" r="1.95"/>
<circle cx="598.83" cy="536.20" r="1.95"/>
<circle cx="603.10" cy="536.20" r="1.95"/>
<circle cx="607.37" cy="536.20" r="1.95"/>
<circle cx="566.81" cy="539.75" r="1.95"/>
<circle cx="571.08" cy="539.75" r="1.95"/>
<circle cx="575.35" cy="539.75" r="1.95"/>
<circle cx="579.62" cy="539.75" r="1.95"/>
<circle cx="583.88" cy="539.75" r="1.95"/>
<circle cx="588.15" cy="539.75" r="1.95"/>
<circle cx="592.43" cy="539.75" r="1.95"/>
<circle cx="596.70" cy="539.75" r="1.95"/>
<circle cx="600.97" cy="539.75" r="1.95"/>
<circle cx="564.67" cy="543.30" r="1.95"/>
<circle cx="568.94" cy="543.30" r="1.95"/>
<circle cx="573.21" cy="543.30" r="1.95"/>
<circle cx="577.48" cy="543.30" r="1.95"/>
<circle cx="581.75" cy="543.30" r="1.95"/>
<circle cx="586.02" cy="543.30" r="1.95"/>
<circle cx="590.29" cy="543.30" r="1.95"/>
<circle cx="594.56" cy="543.30" r="1.95"/>
<circle cx="598.83" cy="543.30" r="1.95"/>
<circle cx="566.81" cy="546.85" r="1.95"/>
<circle cx="571.08" cy="546.85" r="1.95"/>
<circle cx="575.35" cy="546.85" r="1.95"/>
<circle cx="579.62" cy="546.85" r="1.95"/>
<circle cx="583.88" cy="546.85" r="1.95"/>
<circle cx="588.15" cy="546.85" r="1.95"/>
<circle cx="592.43" cy="546.85" r="1.95"/>
<circle cx="596.70" cy="546.85" r="1.95"/>
<circle cx="564.67" cy="550.40" r="1.95"/>
<circle cx="568.94" cy="550.40" r="1.95"/>
<circle cx="573.21" cy="550.40" r="1.95"/>
<circle cx="577.48" cy="550.40" r="1.95"/>
<circle cx="581.75" cy="550.40" r="1.95"/>
<circle cx="586.02" cy="550.40" r="1.95"/>
<circle cx="590.29" cy="550.40" r="1.95"/>
<circle cx="594.56" cy="550.40" r="1.95"/>
<circle cx="598.83" cy="550.40" r="1.95"/>
<circle cx="566.81" cy="553.95" r="1.95"/>
<circle cx="571.08" cy="553.95" r="1.95"/>
<circle cx="575.35" cy="553.95" r="1.95"/>
<circle cx="579.62" cy="553.95" r="1.95"/>
<circle cx="583.88" cy="553.95" r="1.95"/>
<circle cx="588.15" cy="553.95" r="1.95"/>
<circle cx="592.43" cy="553.95" r="1.95"/>
<circle cx="596.70" cy="553.95" r="1.95"/>
<circle cx="600.97" cy="553.95" r="1.95"/>
<circle cx="605.24" cy="553.95" r="1.95"/>
<circle cx="568.94" cy="557.50" r="1.95"/>
<circle cx="573.21" cy="557.50" r="1.95"/>
<circle cx="577.48" cy="557.50" r="1.95"/>
<circle cx="581.75" cy="557.50" r="1.95"/>
<circle cx="586.02" cy="557.50" r="1.95"/>
<circle cx="590.29" cy="557.50" r="1.95"/>
<circle cx="594.56" cy="557.50" r="1.95"/>
<circle cx="598.83" cy="557.50" r="1.95"/>
<circle cx="603.10" cy="557.50" r="1.95"/>
<circle cx="607.37" cy="557.50" r="1.95"/>
<circle cx="611.64" cy="557.50" r="1.95"/>
<circle cx="615.91" cy="557.50" r="1.95"/>
<circle cx="620.18" cy="557.50" r="1.95"/>
<circle cx="624.45" cy="557.50" r="1.95"/>
<circle cx="628.72" cy="557.50" r="1.95"/>
<circle cx="632.99" cy="557.50" r="1.95"/>
<circle cx="566.81" cy="561.05" r="1.95"/>
<circle cx="571.08" cy="561.05" r="1.95"/>
<circle cx="575.35" cy="561.05" r="1.95"/>
<circle cx="579.62" cy="561.05" r="1.95"/>
<circle cx="583.88" cy="561.05" r="1.95"/>
<circle cx="588.15" cy="561.05" r="1.95"/>
<circle cx="592.43" cy="561.05" r="1.95"/>
<circle cx="596.70" cy="561.05" r="1.95"/>
<circle cx="600.97" cy="561.05" r="1.95"/>
<circle cx="605.24" cy="561.05" r="1.95"/>
<circle cx="609.50" cy="561.05" r="1.95"/>
<circle cx="613.77" cy="561.05" r="1.95"/>
<circle cx="618.04" cy="561.05" r="1.95"/>
<circle cx="622.32" cy="561.05" r="1.95"/>
<circle cx="626.59" cy="561.05" r="1.95"/>
<circle cx="630.86" cy="561.05" r="1.95"/>
<circle cx="635.12" cy="561.05" r="1.95"/>
<circle cx="568.94" cy="564.60" r="1.95"/>
<circle cx="573.21" cy="564.60" r="1.95"/>
<circle cx="577.48" cy="564.60" r="1.95"/>
<circle cx="581.75" cy="564.60" r="1.95"/>
<circle cx="586.02" cy="564.60" r="1.95"/>
<circle cx="590.29" cy="564.60" r="1.95"/>
<circle cx="594.56" cy="564.60" r="1.95"/>
<circle cx="598.83" cy="564.60" r="1.95"/>
<circle cx="603.10" cy="564.60" r="1.95"/>
<circle cx="607.37" cy="564.60" r="1.95"/>
<circle cx="611.64" cy="564.60" r="1.95"/>
<circle cx="615.91" cy="564.60" r="1.95"/>
<circle cx="620.18" cy="564.60" r="1.95"/>
<circle cx="624.45" cy="564.60" r="1.95"/>
<circle cx="628.72" cy="564.60" r="1.95"/>
<circle cx="632.99" cy="564.60" r="1.95"/>
<circle cx="637.26" cy="564.60" r="1.95"/>
<circle cx="571.08" cy="568.15" r="1.95"/>
<circle cx="575.35" cy="568.15" r="1.95"/>
<circle cx="579.62" cy="568.15" r="1.95"/>
<circle cx="583.88" cy="568.15" r="1.95"/>
<circle cx="588.15" cy="568.15" r="1.95"/>
<circle cx="592.43" cy="568.15" r="1.95"/>
<circle cx="596.70" cy="568.15" r="1.95"/>
<circle cx="600.97" cy="568.15" r="1.95"/>
<circle cx="605.24" cy="568.15" r="1.95"/>
<circle cx="609.50" cy="568.15" r="1.95"/>
<circle cx="613.77" cy="568.15" r="1.95"/>
<circle cx="618.04" cy="568.15" r="1.95"/>
<circle cx="622.32" cy="568.15" r="1.95"/>
<circle cx="626.59" cy="568.15" r="1.95"/>
<circle cx="630.86" cy="568.15" r="1.95"/>
<circle cx="635.12" cy="568.15" r="1.95"/>
<circle cx="573.21" cy="571.70" r="1.95"/>
<circle cx="577.48" cy="571.70" r="1.95"/>
<circle cx="581.75" cy="571.70" r="1.95"/>
<circle cx="586.02" cy="571.70" r="1.95"/>
<circle cx="590.29" cy="571.70" r="1.95"/>
<circle cx="594.56" cy="571.70" r="1.95"/>
<circle cx="598.83" cy="571.70" r="1.95"/>
<circle cx="603.10" cy="571.70" r="1.95"/>
<circle cx="607.37" cy="571.70" r="1.95"/>
<circle cx="611.64" cy="571.70" r="1.95"/>
<circle cx="615.91" cy="571.70" r="1.95"/>
<circle cx="620.18" cy="571.70" r="1.95"/>
<circle cx="624.45" cy="571.70" r="1.95"/>
<circle cx="628.72" cy="571.70" r="1.95"/>
<circle cx="632.99" cy="571.70" r="1.95"/>
<circle cx="637.26" cy="571.70" r="1.95"/>
<circle cx="579.62" cy="575.25" r="1.95"/>
<circle cx="583.88" cy="575.25" r="1.95"/>
<circle cx="588.15" cy="575.25" r="1.95"/>
<circle cx="592.43" cy="575.25" r="1.95"/>
<circle cx="596.70" cy="575.25" r="1.95"/>
<circle cx="600.97" cy="575.25" r="1.95"/>
<circle cx="605.24" cy="575.25" r="1.95"/>
<circle cx="609.50" cy="575.25" r="1.95"/>
<circle cx="613.77" cy="575.25" r="1.95"/>
<circle cx="618.04" cy="575.25" r="1.95"/>
<circle cx="622.32" cy="575.25" r="1.95"/>
<circle cx="626.59" cy="575.25" r="1.95"/>
<circle cx="630.86" cy="575.25" r="1.95"/>
<circle cx="635.12" cy="575.25" r="1.95"/>
<circle cx="590.29" cy="578.80" r="1.95"/>
<circle cx="594.56" cy="578.80" r="1.95"/>
<circle cx="598.83" cy="578.80" r="1.95"/>
<circle cx="603.10" cy="578.80" r="1.95"/>
<circle cx="607.37" cy="578.80" r="1.95"/>
<circle cx="611.64" cy="578.80" r="1.95"/>
<circle cx="615.91" cy="578.80" r="1.95"/>
<circle cx="620.18" cy="578.80" r="1.95"/>
<circle cx="624.45" cy="578.80" r="1.95"/>
<circle cx="628.72" cy="578.80" r="1.95"/>
<circle cx="632.99" cy="578.80" r="1.95"/>
<circle cx="600.97" cy="582.35" r="1.95"/>
<circle cx="605.24" cy="582.35" r="1.95"/>
<circle cx="609.50" cy="582.35" r="1.95"/>
<circle cx="613.77" cy="582.35" r="1.95"/>
<circle cx="618.04" cy="582.35" r="1.95"/>
<circle cx="622.32" cy="582.35" r="1.95"/>
<circle cx="626.59" cy="582.35" r="1.95"/>
<circle cx="630.86" cy="582.35" r="1.95"/>
</g>
<circle cx="624.6" cy="377.1" r="10.9" fill="#EE2A22" stroke="#000" stroke-width="1.7"/>
<g stroke="#000" stroke-linecap="butt" fill="none">
<line x1="284.7" y1="79" x2="368.3" y2="116.2" stroke-width="2.8"/>
<line x1="163.6" y1="283.2" x2="359.5" y2="266.4" stroke-width="2.8"/>
<line x1="989.8" y1="251.5" x2="865.3" y2="323.3" stroke-width="2.8"/>
<line x1="598.3" y1="481.3" x2="330" y2="683.2" stroke-width="2.9"/>
<line x1="592.7" y1="256.3" x2="579.9" y2="278.2" stroke-width="2.5"/>
<line x1="487.3" y1="349.7" x2="507.3" y2="375" stroke-width="2.5"/>
<line x1="795.6" y1="399.6" x2="815.9" y2="419.6" stroke-width="2.5"/>
</g>
<circle cx="598.3" cy="481.3" r="11.0" fill="#EE2A22" stroke="#000" stroke-width="1.7"/>
<g filter="url(#nf)">
<text x="164.9" y="87.3" font-size="35.6" stroke="#000" stroke-width="1.6" stroke-linejoin="round" textLength="112.0" lengthAdjust="spacingAndGlyphs">gp120</text>
<text x="169.7" y="128.1" font-size="23.25" stroke="#000" stroke-width="1.3" stroke-linejoin="round" textLength="102.9" lengthAdjust="spacingAndGlyphs">Docking</text>
<text x="140.1" y="154.3" font-size="22.85" stroke="#000" stroke-width="1.3" stroke-linejoin="round" textLength="163.5" lengthAdjust="spacingAndGlyphs">Glycoprotein</text>
<text x="67.3" y="292.5" font-size="35.5" stroke="#000" stroke-width="1.6" stroke-linejoin="round" textLength="86.0" lengthAdjust="spacingAndGlyphs">gp41</text>
<text x="9.3" y="331.7" font-size="23.05" stroke="#000" stroke-width="1.3" stroke-linejoin="round" textLength="207.2" lengthAdjust="spacingAndGlyphs">Transmembrane</text>
<text x="31.9" y="357.9" font-size="23.15" stroke="#000" stroke-width="1.3" stroke-linejoin="round" textLength="163.2" lengthAdjust="spacingAndGlyphs">Glycoprotein</text>
<text x="997.4" y="217.4" font-size="34.9" stroke="#000" stroke-width="1.6" stroke-linejoin="round" textLength="90.4" lengthAdjust="spacingAndGlyphs">Lipid</text>
<text x="997.4" y="262.0" font-size="34.4" stroke="#000" stroke-width="1.6" stroke-linejoin="round" textLength="192.6" lengthAdjust="spacingAndGlyphs">Membrane</text>
<text x="576.25" y="247.05" font-size="23.75" stroke="#000" stroke-width="1.3" stroke-linejoin="round" textLength="55.5" lengthAdjust="spacingAndGlyphs">RNA</text>
<text x="425.95" y="342.35" font-size="23.25" stroke="#000" stroke-width="1.3" stroke-linejoin="round" textLength="86.3" lengthAdjust="spacingAndGlyphs">Capsid</text>
<text x="729.75" y="390.75" font-size="23.35" stroke="#000" stroke-width="1.3" stroke-linejoin="round" textLength="80.1" lengthAdjust="spacingAndGlyphs">Matrix</text>
<text x="103.2" y="697.4" font-size="35.0" stroke="#000" stroke-width="1.6" stroke-linejoin="round" textLength="146" lengthAdjust="spacingAndGlyphs">Reverse</text>
</g>
</svg></body></html>
